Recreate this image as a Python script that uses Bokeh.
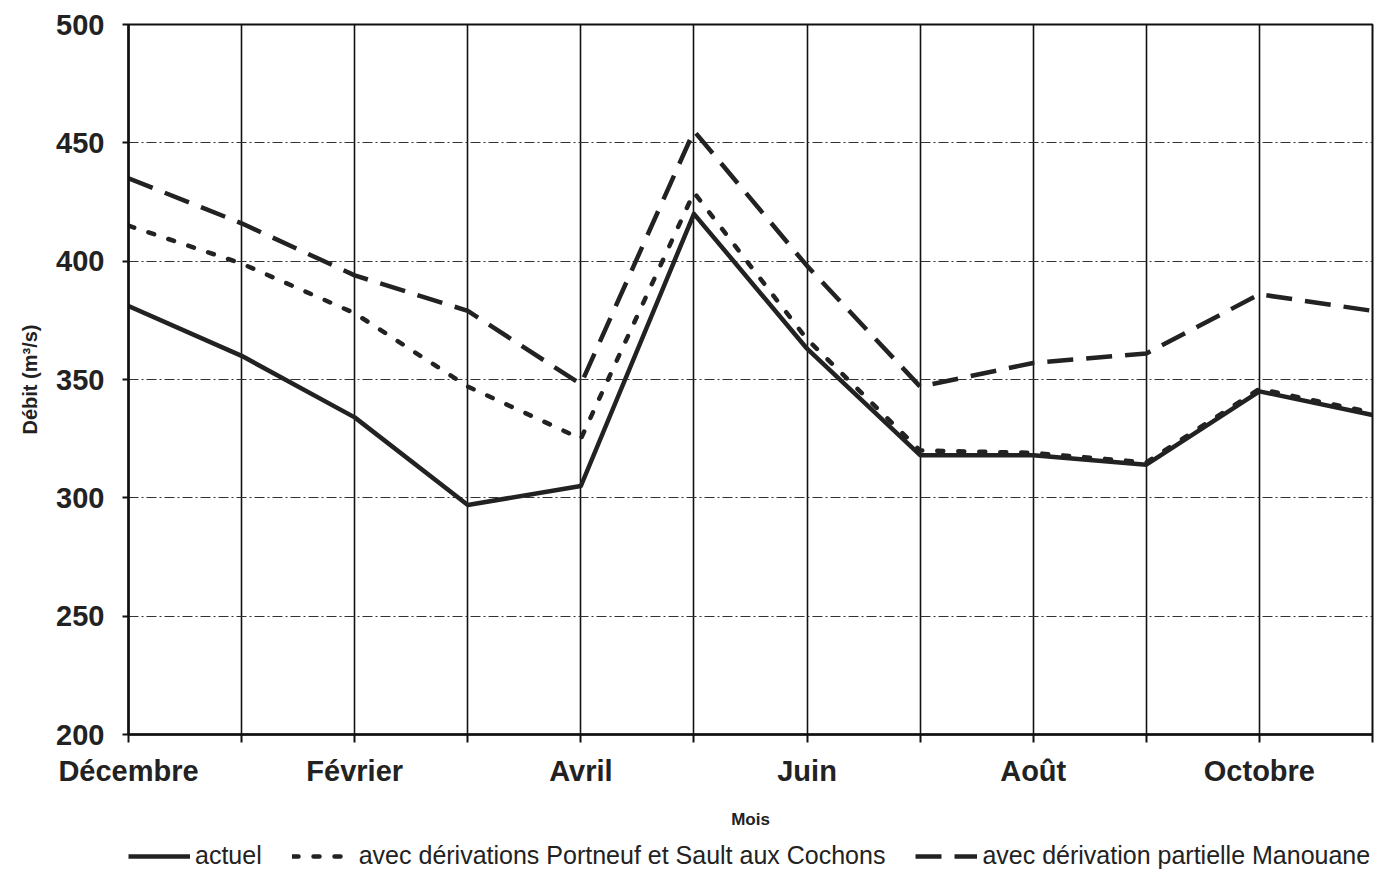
from bokeh.plotting import figure
from bokeh.layouts import column
from bokeh.models import FixedTicker, Legend, LegendItem, Range1d
from bokeh.embed import file_html
from bokeh.resources import INLINE

months = ["Décembre", "Janvier", "Février", "Mars", "Avril", "Mai", "Juin",
          "Juillet", "Août", "Septembre", "Octobre", "Novembre"]
actuel = [381, 360, 334, 297, 305, 420, 363, 318, 318, 314, 345, 335]
portneuf = [415, 399, 378, 347, 325, 429, 367, 320, 319, 315, 346, 336]
manouane = [435, 416, 394, 379, 348, 455, 398, 347, 357, 361, 386, 379]
y_ticks = [200, 250, 300, 350, 400, 450, 500]
shown_months = ["Décembre", "Février", "Avril", "Juin", "Août", "Octobre"]
series_labels = ["actuel", "avec dérivations Portneuf et Sault aux Cochons",
                 "avec dérivation partielle Manouane"]

x = list(range(len(months)))
FONT = "Liberation Sans"
INK = "#222222"
styles = [dict(line_dash="solid", line_cap="butt"),
          dict(line_dash="6 15", line_cap="round"),
          dict(line_dash="26 13", line_cap="butt")]

p = figure(width=1374, height=836, output_backend="svg", toolbar_location=None,
           x_range=Range1d(0, len(months) - 1), y_range=Range1d(200, 500),
           min_border_left=128, min_border_right=2, min_border_top=24,
           min_border_bottom=102)
p.background_fill_color = "white"
p.border_fill_color = "white"
p.outline_line_color = "#111111"
p.outline_line_width = 2

# axes
p.xaxis.ticker = FixedTicker(ticks=x)
p.xaxis.major_label_overrides = {i: (m if m in shown_months else "") for i, m in enumerate(months)}
p.yaxis.ticker = FixedTicker(ticks=y_ticks)
for ax in (p.xaxis[0], p.yaxis[0]):
    ax.axis_line_color = "#111111"
    ax.axis_line_width = 2.5
    ax.major_tick_line_color = "#111111"
    ax.major_tick_line_width = 2
    ax.major_tick_in = 0
    ax.minor_tick_line_color = None
    ax.major_label_text_font = FONT
    ax.major_label_text_font_style = "bold"
    ax.major_label_text_font_size = "29px"
    ax.major_label_text_color = INK
    ax.axis_label_text_font = FONT
    ax.axis_label_text_font_style = "bold"
    ax.axis_label_text_color = INK
p.yaxis.axis_label_text_font_size = "20px"
p.xaxis.axis_label_text_font_size = "17px"
p.yaxis.major_tick_out = 6
p.yaxis.major_label_standoff = 18
p.xaxis.major_tick_out = 8
p.xaxis.major_label_standoff = 12
p.yaxis.axis_label = "Débit (m³/s)"
p.yaxis.axis_label_standoff = 12
p.xaxis.axis_label = "Mois"
p.xaxis.axis_label_standoff = 20

# grids
p.xgrid.grid_line_color = "#111111"
p.xgrid.grid_line_width = 1.6
p.ygrid.grid_line_color = "#333333"
p.ygrid.grid_line_width = 1
p.ygrid.grid_line_dash = "10 3 2 3"

# series
for vals, st in zip([actuel, portneuf, manouane], styles):
    p.line(x, vals, line_color=INK, line_width=4.5, line_join="round", **st)

# legend strip below the chart (its renderers are hidden; only the legend shows)
lg = figure(width=1374, height=36, output_backend="svg", toolbar_location=None,
            x_range=Range1d(0, len(months) - 1), y_range=Range1d(200, 500),
            x_axis_location=None, y_axis_location=None,
            min_border_left=128, min_border_right=2, min_border_top=0,
            min_border_bottom=0)
lg.grid.visible = False
lg.outline_line_color = None
lg.background_fill_color = "white"
lg.border_fill_color = "white"
items = []
for lab, vals, st in zip(series_labels, [actuel, portneuf, manouane], styles):
    r = lg.line(x, vals, line_color=INK, line_width=4.5, visible=False, **st)
    items.append(LegendItem(label=lab, renderers=[r]))
legend = Legend(items=items, orientation="horizontal", location=(0, 2),
                border_line_color=None, background_fill_alpha=0,
                label_text_font=FONT, label_text_font_size="25px",
                label_text_color=INK, glyph_width=62, glyph_height=26,
                label_standoff=5, spacing=30, padding=0, margin=0)
lg.add_layout(legend, "center")

layout = column(p, lg, spacing=0)
open("out.html", "w").write(file_html(layout, INLINE))
